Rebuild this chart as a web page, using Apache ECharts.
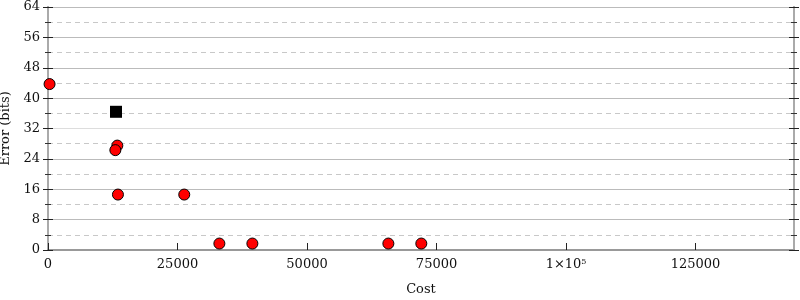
<!DOCTYPE html>
<html><head><meta charset="utf-8">
<script src="https://cdn.jsdelivr.net/npm/echarts@6/dist/echarts.min.js"></script>
<style>html,body{margin:0;padding:0;background:#fff}#c{width:800px;height:300px}</style>
</head><body><div id="c"></div>
<script>
const redCost = [300, 13380, 13000, 13500, 26300, 33080, 39450, 65700, 72060];
const redError = [43.7, 27.5, 26.3, 14.6, 14.6, 1.7, 1.7, 1.7, 1.7];
const blackCost = [13130];
const blackError = [36.4];
const xTitle = 'Cost';
const yTitle = 'Error (bits)';

const font = 'DejaVu Serif';
const txt = {fontFamily: font, fontSize: 13, color: '#111'};
const gridColors = ['#bbb','#bbb','#bbb','#bbb','#ddd','#bbb','#bbb','#bbb','#bbb'];

function yAx(pos, inside, main) {
  return {
    type: 'value', position: pos, min: 0, max: 64, interval: 8,
    axisLine: {show: true, lineStyle: {color: '#aaa', width: 2}},
    axisTick: {show: true, inside: inside, length: 5, lineStyle: {color: '#222'}},
    minorTick: {show: true, splitNumber: 2, length: 3, lineStyle: {color: '#333'}},
    axisLabel: {show: main, ...txt, margin: 8},
    splitLine: {show: main, lineStyle: {color: gridColors, width: 1}},
    minorSplitLine: {show: main, lineStyle: {color: '#c8c8c8', type: [5, 4], width: 1}},
    name: main ? yTitle : '', nameLocation: 'middle', nameGap: 33,
    nameTextStyle: txt
  };
}

const chart = echarts.init(document.getElementById('c'));
chart.setOption({
  animation: false,
  grid: {left: 48, right: 6, top: 7, bottom: 50, containLabel: false, outerBoundsMode: 'none'},
  xAxis: [{
    type: 'value', position: 'bottom', min: 0, max: 144000, interval: 25000,
    axisLine: {show: true, lineStyle: {color: '#999', width: 2}},
    axisTick: {show: true, inside: true, length: 7, lineStyle: {color: '#222'}},
    axisLabel: {...txt, margin: 8, showMaxLabel: false,
      formatter: v => v === 100000 ? '1×10{s|5}' : String(v),
      rich: {s: {fontFamily: font, fontSize: 8, verticalAlign: 'top', padding: [0,0,6,0]}}},
    splitLine: {show: false},
    name: xTitle, nameLocation: 'middle', nameGap: 33, nameTextStyle: txt
  }, {
    type: 'value', position: 'top', min: 0, max: 144000,
    axisLine: {show: true, lineStyle: {color: '#999', width: 2}},
    axisTick: {show: false}, axisLabel: {show: false}, splitLine: {show: false}
  }],
  yAxis: [yAx('left', false, true), yAx('left', true, false), yAx('right', false, false), yAx('right', true, false)],
  series: [{
    type: 'scatter', symbol: 'circle', symbolSize: 11,
    itemStyle: {color: '#ff0000', borderColor: '#000', borderWidth: 1, opacity: 1},
    data: redCost.map((c, i) => [c, redError[i]])
  }, {
    type: 'scatter', symbol: 'rect', symbolSize: 12,
    itemStyle: {color: '#000', opacity: 1},
    data: blackCost.map((c, i) => [c, blackError[i]])
  }]
});
</script></body></html>
